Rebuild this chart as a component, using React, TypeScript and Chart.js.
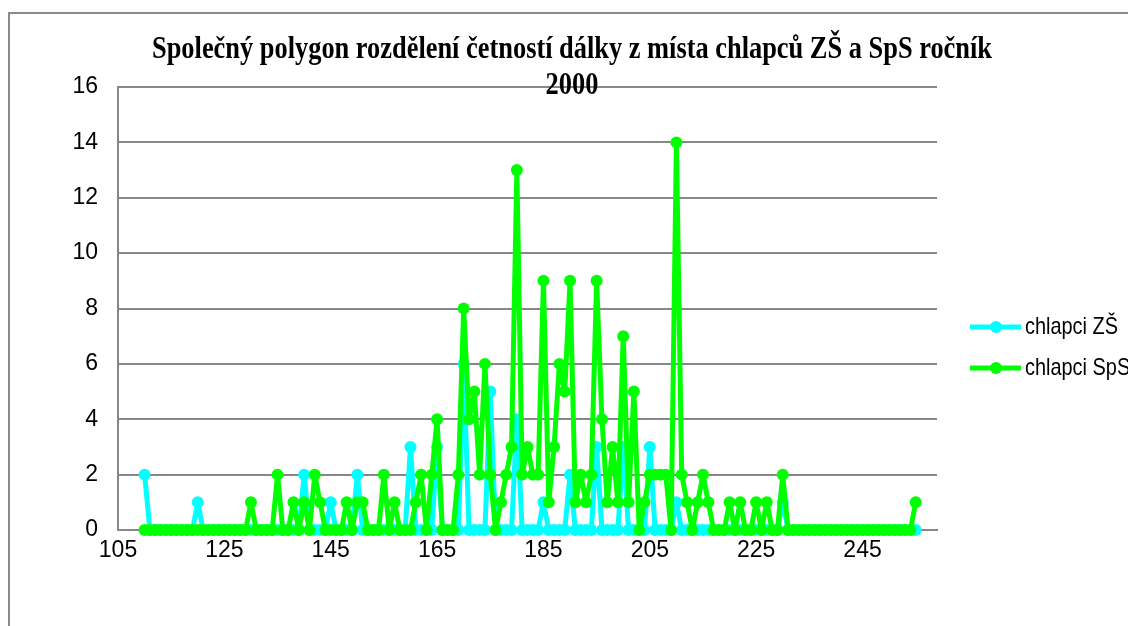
import React, { useEffect, useRef } from "react";
import { Chart, registerables } from "chart.js";

Chart.register(...registerables);

const TITLE_LINES = [
  "Společný polygon rozdělení četností dálky z místa chlapců ZŠ a SpS ročník",
  "2000",
];
const SERIES_NAMES = ["chlapci ZŠ", "chlapci SpS"];

// jump length in cm
const jumpLengths = [
  110, 111, 112, 113, 114, 115, 116, 117, 118, 119,
  120, 121, 122, 123, 124, 125, 126, 127, 128, 129,
  130, 131, 132, 133, 134, 135, 136, 137, 138, 139,
  140, 141, 142, 143, 144, 145, 146, 147, 148, 149,
  150, 151, 152, 153, 154, 155, 156, 157, 158, 159,
  160, 161, 162, 163, 164, 165, 166, 167, 168, 169,
  170, 171, 172, 173, 174, 175, 176, 177, 178, 179,
  180, 181, 182, 183, 184, 185, 186, 187, 188, 189,
  190, 191, 192, 193, 194, 195, 196, 197, 198, 199,
  200, 201, 202, 203, 204, 205, 206, 207, 208, 209,
  210, 211, 212, 213, 214, 215, 216, 217, 218, 219,
  220, 221, 222, 223, 224, 225, 226, 227, 228, 229,
  230, 231, 232, 233, 234, 235, 236, 237, 238, 239,
  240, 241, 242, 243, 244, 245, 246, 247, 248, 249,
  250, 251, 252, 253, 254, 255,
];

// chlapci ZŠ frequencies
const zsBoys = [
  2, 0, 0, 0, 0, 0, 0, 0, 0, 0,
  1, 0, 0, 0, 0, 0, 0, 0, 0, 0,
  0, 0, 0, 0, 0, 0, 0, 0, 0, 0,
  2, 0, 0, 0, 0, 1, 0, 0, 0, 0,
  2, 0, 0, 0, 0, 0, 0, 0, 0, 0,
  3, 0, 0, 0, 0, 3, 0, 0, 0, 0,
  6, 0, 0, 0, 0, 5, 0, 0, 0, 0,
  4, 0, 0, 0, 0, 1, 0, 0, 0, 0,
  2, 0, 0, 0, 0, 3, 0, 0, 0, 0,
  3, 0, 0, 0, 0, 3, 0, 0, 0, 0,
  1, 0, 0, 0, 0, 0, 0, 0, 0, 0,
  0, 0, 0, 0, 0, 0, 0, 0, 0, 0,
  1, 0, 0, 0, 0, 0, 0, 0, 0, 0,
  0, 0, 0, 0, 0, 0, 0, 0, 0, 0,
  0, 0, 0, 0, 0, 0,
];

// chlapci SpS frequencies
const spsBoys = [
  0, 0, 0, 0, 0, 0, 0, 0, 0, 0,
  0, 0, 0, 0, 0, 0, 0, 0, 0, 0,
  1, 0, 0, 0, 0, 2, 0, 0, 1, 0,
  1, 0, 2, 1, 0, 0, 0, 0, 1, 0,
  1, 1, 0, 0, 0, 2, 0, 1, 0, 0,
  0, 1, 2, 0, 2, 4, 0, 0, 0, 2,
  8, 4, 5, 2, 6, 2, 0, 1, 2, 3,
  13, 2, 3, 2, 2, 9, 1, 3, 6, 5,
  9, 1, 2, 1, 2, 9, 4, 1, 3, 1,
  7, 1, 5, 0, 1, 2, 2, 2, 2, 0,
  14, 2, 1, 0, 1, 2, 1, 0, 0, 0,
  1, 0, 1, 0, 0, 1, 0, 1, 0, 0,
  2, 0, 0, 0, 0, 0, 0, 0, 0, 0,
  0, 0, 0, 0, 0, 0, 0, 0, 0, 0,
  0, 0, 0, 0, 0, 1,
];

const xTickValues = [105, 125, 145, 165, 185, 205, 225, 245];
const X_MIN = 105;
const X_MAX = 259;
const Y_MIN = 0;
const Y_MAX = 16;
const Y_STEP = 2;

const W = 1128;
const H = 626;
const CYAN = "#00FFFF";
const GREEN = "#00FF00";
const GRID = "#878787";

const overlayPlugin = {
  id: "overlay",
  beforeDraw(chart: any) {
    const ctx = chart.ctx;
    ctx.save();
    ctx.fillStyle = "#ffffff";
    ctx.fillRect(0, 0, W, H);
    ctx.strokeStyle = "#8a8a8a";
    ctx.lineWidth = 2;
    ctx.beginPath();
    ctx.moveTo(9, H);
    ctx.lineTo(9, 13);
    ctx.lineTo(W, 13);
    ctx.stroke();
    ctx.restore();
  },
  afterDraw(chart: any) {
    const ctx = chart.ctx;
    ctx.save();
    // title
    ctx.fillStyle = "#000";
    ctx.font = 'bold 31px "Liberation Serif", "Times New Roman", serif';
    ctx.textAlign = "center";
    ctx.textBaseline = "alphabetic";
    const w1 = ctx.measureText(TITLE_LINES[0]).width;
    const sx = 840 / w1;
    ctx.save();
    ctx.translate(572, 58);
    ctx.scale(sx, 1);
    ctx.fillText(TITLE_LINES[0], 0, 0);
    ctx.restore();
    ctx.save();
    ctx.translate(572, 94);
    ctx.scale(sx, 1);
    ctx.fillText(TITLE_LINES[1], 0, 0);
    ctx.restore();

    // legend
    const colors = [CYAN, GREEN];
    const ys = [327, 368];
    ctx.font = '24px "Liberation Sans", Arial, sans-serif';
    ctx.textAlign = "left";
    ctx.textBaseline = "middle";
    SERIES_NAMES.forEach((name, i) => {
      const y = ys[i];
      ctx.strokeStyle = colors[i];
      ctx.lineWidth = 5;
      ctx.beginPath();
      ctx.moveTo(970, y);
      ctx.lineTo(1021, y);
      ctx.stroke();
      ctx.fillStyle = colors[i];
      ctx.beginPath();
      ctx.arc(996, y, 6, 0, Math.PI * 2);
      ctx.fill();
      ctx.fillStyle = "#000";
      ctx.save();
      ctx.translate(1025, y);
      ctx.scale(0.83, 1);
      ctx.fillText(name, 0, 0);
      ctx.restore();
    });
    ctx.restore();
  },
};

export default function App() {
  const canvasRef = useRef<HTMLCanvasElement | null>(null);

  useEffect(() => {
    const canvas = canvasRef.current;
    if (!canvas) return;
    const tickFont = { family: '"Liberation Sans", Arial, sans-serif', size: 23 };
    const common = {
      borderWidth: 5,
      pointRadius: 6,
      pointBorderWidth: 0,
      tension: 0,
      clip: false,
      borderJoinStyle: "round",
      borderCapStyle: "round",
    };
    const chart = new Chart(canvas, {
      type: "line",
      data: {
        datasets: [
          {
            ...common,
            label: SERIES_NAMES[0],
            data: jumpLengths.map((x, i) => ({ x, y: zsBoys[i] })),
            borderColor: CYAN,
            backgroundColor: CYAN,
            pointBackgroundColor: CYAN,
            pointBorderColor: CYAN,
            order: 1,
          },
          {
            ...common,
            label: SERIES_NAMES[1],
            data: jumpLengths.map((x, i) => ({ x, y: spsBoys[i] })),
            borderColor: GREEN,
            backgroundColor: GREEN,
            pointBackgroundColor: GREEN,
            pointBorderColor: GREEN,
            order: 0,
          },
        ],
      },
      options: {
        animation: false,
        responsive: false,
        maintainAspectRatio: false,
        devicePixelRatio: 1,
        layout: { padding: { top: 87, right: W - 937, bottom: 0, left: 0 } },
        plugins: {
          legend: { display: false },
          title: { display: false },
          tooltip: { enabled: false },
        },
        scales: {
          x: {
            type: "linear",
            min: X_MIN,
            max: X_MAX,
            grid: { display: false, drawTicks: false },
            border: { display: true, color: GRID, width: 2 },
            ticks: {
              font: tickFont,
              color: "#000",
              padding: 7,
              maxRotation: 0,
              autoSkip: false,
            },
            afterBuildTicks: (scale: any) => {
              scale.ticks = xTickValues.map((v) => ({ value: v }));
            },
            afterFit: (scale: any) => {
              scale.height = H - 530;
            },
          },
          y: {
            type: "linear",
            min: Y_MIN,
            max: Y_MAX,
            ticks: {
              stepSize: Y_STEP,
              font: tickFont,
              color: "#000",
              padding: 20,
            },
            grid: { color: GRID, lineWidth: 2, drawTicks: false },
            border: { display: true, color: GRID, width: 2 },
            afterFit: (scale: any) => {
              scale.width = 118;
            },
          },
        },
      },
      plugins: [overlayPlugin],
    } as any);
    return () => chart.destroy();
  }, []);

  return (
    <div style={{ position: "fixed", left: 0, top: 0, width: W, height: H, background: "#fff" }}>
      <canvas ref={canvasRef} width={W} height={H} style={{ display: "block", width: W, height: H }} />
    </div>
  );
}
